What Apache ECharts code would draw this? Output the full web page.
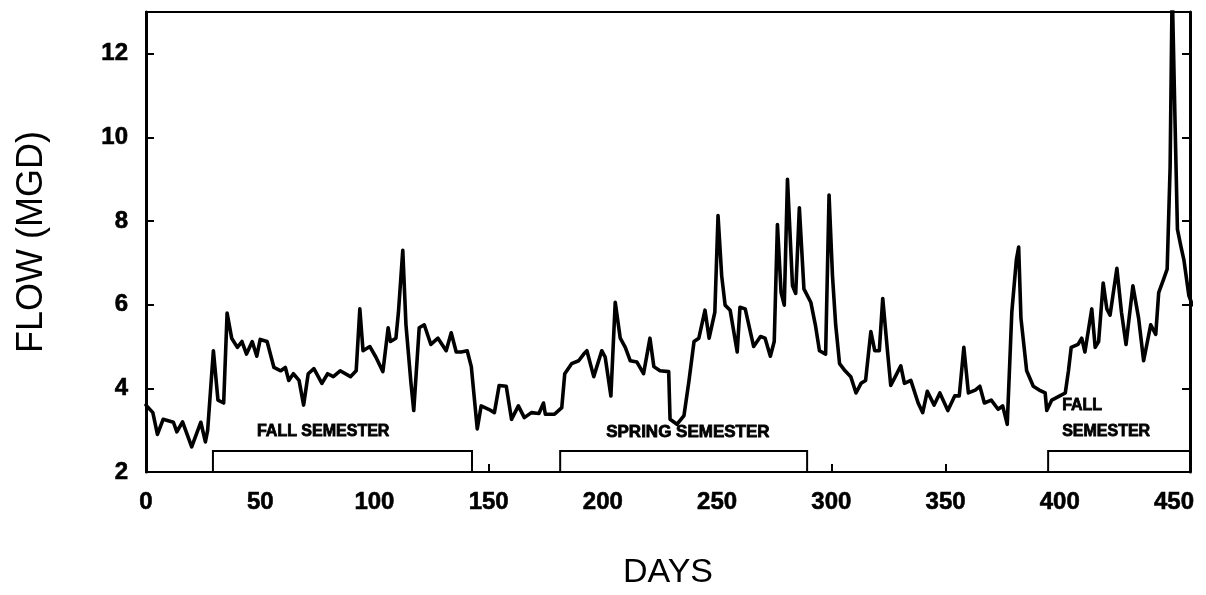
<!DOCTYPE html>
<html>
<head>
<meta charset="utf-8">
<script src="https://cdn.jsdelivr.net/npm/echarts@6/dist/echarts.min.js"></script>
<style>
html,body{margin:0;padding:0;background:#fff;}
#chart{width:1206px;height:595px;}
</style>
</head>
<body>
<div id="chart"></div>
<script>
// ---- data ----
const days = [0,3,5,7.5,12,13.5,16,20,24,26,27,29.5,31.5,34,35.5,37.5,40,42,44,46.5,48.5,50,53,56,59,61,62.5,64.5,67,69,71,73.5,77,79.5,82,85,89.5,92,93.6,95,98,100.6,103.7,106,107,109.4,110.5,112.4,113.8,116,117.2,119.6,121.8,124.7,127.8,131.4,133.6,135.8,138,140.6,142.4,143.8,145,146.7,150,152.5,154.6,157.7,160,163,165.6,168.7,172,174,174.8,178.8,182,183.3,186.3,189.4,191.6,193,196,199.5,201,203.5,205.4,207.6,209.8,212,214.9,217.8,220.6,222.3,225,228.8,229.4,232.4,235.5,237.7,239.9,242,244.7,246.5,249,250.4,252,253.5,255.7,258.8,260,262.3,266,269,271,273.3,275,276.4,278,279.4,280.8,283,284.4,286,288,291,293,294.8,297.5,299,300.5,301.9,303.6,306,308.5,310.8,313,315,317.3,319,321,322.5,324.7,326,328,330.4,332,334.8,338,340,342,345,347.5,351,354,356,358,360,363,365,367,370,373,375,377,379,381,382,383,385.5,388.4,391,393.6,394.3,396.5,400,402.4,403.8,405,408,409.6,411,414,415.5,417,419,420.6,422,425,427,429,432,434.5,436.7,439.8,442,443.3,445.5,447,448.3,449.2,450.4,451.5,453,454.3,456.5,458];
const flow = [3.6,3.42,2.9,3.26,3.19,2.96,3.2,2.6,3.19,2.72,3.0,4.9,3.72,3.65,5.8,5.2,4.98,5.12,4.82,5.12,4.77,5.17,5.12,4.5,4.42,4.5,4.19,4.35,4.19,3.6,4.35,4.47,4.12,4.35,4.28,4.42,4.28,4.42,5.9,4.9,5.0,4.75,4.4,5.45,5.12,5.2,5.82,7.3,5.52,4.12,3.47,5.45,5.52,5.05,5.2,4.9,5.33,4.87,4.87,4.9,4.52,3.72,3.03,3.58,3.5,3.42,4.07,4.05,3.26,3.58,3.3,3.42,3.4,3.65,3.38,3.38,3.54,4.35,4.59,4.66,4.82,4.9,4.28,4.9,4.75,3.82,6.06,5.2,4.98,4.66,4.63,4.35,5.2,4.52,4.42,4.4,3.26,3.14,3.35,4.19,5.12,5.2,5.87,5.2,5.82,8.13,6.69,5.99,5.87,4.87,5.94,5.9,5.0,5.24,5.2,4.77,5.12,7.92,6.29,5.99,9.0,6.45,6.27,8.32,6.38,6.06,5.52,4.9,4.82,8.62,6.69,5.52,4.59,4.42,4.28,3.89,4.12,4.19,5.36,4.9,4.9,6.15,4.82,4.07,4.28,4.54,4.12,4.19,3.65,3.42,3.93,3.6,3.89,3.47,3.82,3.82,4.98,3.89,3.96,4.05,3.65,3.72,3.5,3.58,3.14,5.82,7.08,7.38,5.68,4.42,4.05,3.96,3.89,3.47,3.72,3.82,3.89,4.42,4.98,5.05,5.2,4.87,5.9,4.98,5.12,6.52,5.9,5.75,6.87,5.82,5.05,6.45,5.68,4.66,5.52,5.29,6.29,6.62,6.85,9.3,13.6,10.5,7.8,7.4,7.08,6.22,6.0];

const semesterNames = ['FALL SEMESTER', 'SPRING SEMESTER', 'FALL\nSEMESTER'];
const semesterStart = [29.3, 181.3, 394.9];
const semesterEnd = [142.7, 289.4, 457];
const semesterLow = 2;
const semesterHigh = 2.5;

const xTicks = [0, 50, 100, 150, 200, 250, 300, 350, 400, 450];
const yTicks = [2, 4, 6, 8, 10, 12];

// ---- chart ----
const chart = echarts.init(document.getElementById('chart'), null, {renderer: 'canvas'});
const lineData = days.map((d, i) => [d, flow[i]]);
const labelPos = [[45, -5], [47, -5], [15, -5]];
const labelSize = [16, 17, 16];
const areas = semesterNames.map((n, i) => [
  {coord: [semesterStart[i], semesterLow], name: n,
   label: {position: labelPos[i], fontSize: labelSize[i]}},
  {coord: [semesterEnd[i], semesterHigh]}
]);

const tickFont = {fontFamily: 'Liberation Sans, Arial, sans-serif', fontWeight: 'bold', fontSize: 24, color: '#000',
  textBorderColor: '#000', textBorderWidth: 0.6};

chart.setOption({
  animation: false,
  backgroundColor: '#fff',
  grid: {left: 146, right: 16, top: 12, bottom: 115, show: true, borderColor: '#000', borderWidth: 2, backgroundColor: 'transparent'},
  xAxis: {
    type: 'value', min: 0, max: 457, interval: 50,
    name: 'DAYS', nameLocation: 'middle', nameGap: 84,
    nameTextStyle: {fontFamily: 'Liberation Sans, Arial, sans-serif', fontSize: 34, color: '#000'},
    axisLine: {show: true, lineStyle: {color: '#000', width: 2}},
    axisTick: {show: true, inside: true, length: 8, lineStyle: {color: '#000', width: 2}},
    axisLabel: Object.assign({margin: 18, showMaxLabel: false,
      formatter: v => xTicks.includes(v) ? String(v) : ''}, tickFont),
    splitLine: {show: false}
  },
  yAxis: [{
    type: 'value', min: 2, max: 13, interval: 2,
    name: 'FLOW (MGD)', nameLocation: 'middle', nameGap: 96, nameRotate: 90,
    nameTextStyle: {fontFamily: 'Liberation Sans, Arial, sans-serif', fontSize: 36, color: '#000'},
    axisLine: {show: true, lineStyle: {color: '#000', width: 3}},
    axisTick: {show: true, inside: true, length: 8, lineStyle: {color: '#000', width: 2}},
    axisLabel: Object.assign({margin: 18, showMaxLabel: false,
      formatter: v => yTicks.includes(v) ? String(v) : ''}, tickFont),
    splitLine: {show: false}
  }, {
    type: 'value', min: 2, max: 13, interval: 2, position: 'right',
    axisLine: {show: true, lineStyle: {color: '#000', width: 3}},
    axisTick: {show: true, inside: true, length: 8, lineStyle: {color: '#000', width: 2}},
    axisLabel: {show: false},
    splitLine: {show: false}
  }],
  series: [{
    type: 'line',
    data: lineData,
    showSymbol: false,
    symbol: 'none',
    lineStyle: {color: '#000', width: 3.6, join: 'round', cap: 'round'},
    z: 3,
    markArea: {
      silent: true,
      itemStyle: {color: '#fff', borderColor: '#000', borderWidth: 2},
      label: {show: true, align: 'left', verticalAlign: 'bottom', lineHeight: 26,
        fontFamily: 'Liberation Sans, Arial, sans-serif', fontWeight: 'bold', fontSize: 16, color: '#000',
        textBorderColor: '#000', textBorderWidth: 0.8},
      data: areas
    }
  }]
});
</script>
</body>
</html>
